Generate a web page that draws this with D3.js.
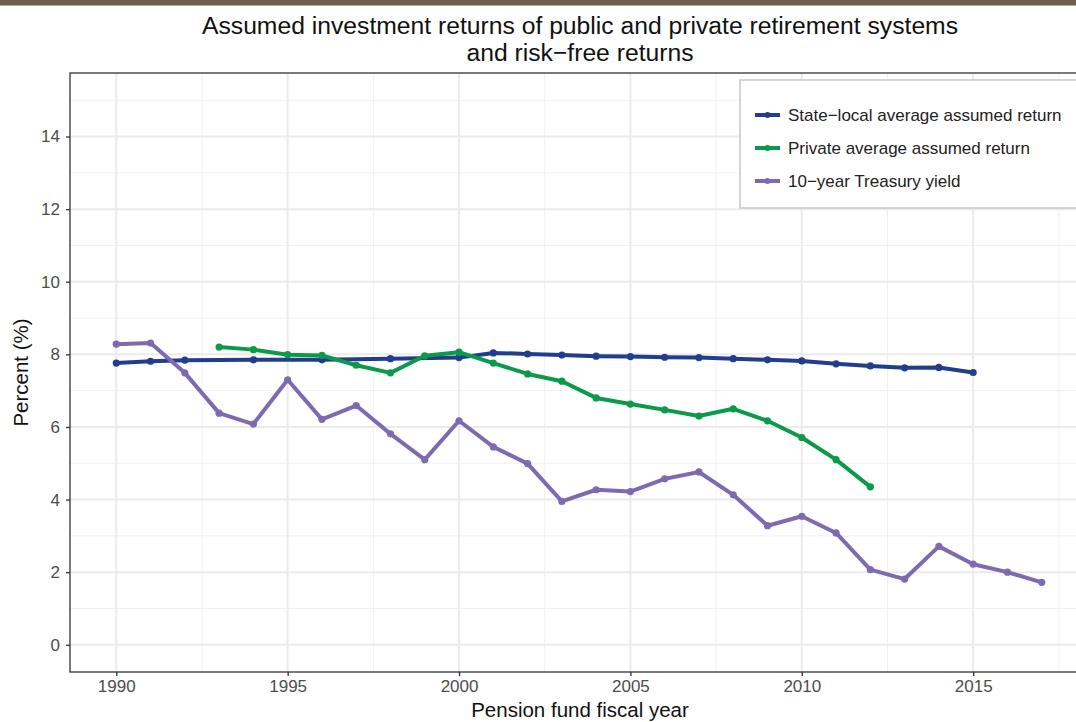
<!DOCTYPE html>
<html>
<head>
<meta charset="utf-8">
<script src="https://cdn.jsdelivr.net/npm/d3@7"></script>
<style>
  body { margin: 0; background: #fff; }
  svg { display: block; font-family: "Liberation Sans", Arial, sans-serif; }
</style>
</head>
<body>
<div id="vis-container"></div>
<script>
// Data
const stateYears = [1990, 1991, 1992, 1994, 1996, 1998, 2000, 2001, 2002, 2003, 2004, 2005, 2006, 2007, 2008, 2009, 2010, 2011, 2012, 2013, 2014, 2015];
const stateValues = [7.76, 7.81, 7.84, 7.85, 7.85, 7.88, 7.91, 8.04, 8.01, 7.98, 7.95, 7.94, 7.92, 7.91, 7.88, 7.85, 7.82, 7.74, 7.68, 7.63, 7.64, 7.50];

const privateYears = [1993, 1994, 1995, 1996, 1997, 1998, 1999, 2000, 2001, 2002, 2003, 2004, 2005, 2006, 2007, 2008, 2009, 2010, 2011, 2012];
const privateValues = [8.20, 8.13, 7.99, 7.97, 7.70, 7.49, 7.96, 8.06, 7.76, 7.46, 7.26, 6.80, 6.63, 6.47, 6.30, 6.50, 6.17, 5.71, 5.10, 4.35];

const treasuryYears = d3.range(1990, 2018);
const treasuryValues = [8.28, 8.31, 7.49, 6.38, 6.08, 7.30, 6.21, 6.59, 5.81, 5.10, 6.17, 5.45, 4.99, 3.95, 4.27, 4.22, 4.57, 4.76, 4.13, 3.28, 3.54, 3.08, 2.07, 1.81, 2.71, 2.22, 2.00, 1.72];

const seriesNames = ["State\u2212local average assumed return", "Private average assumed return", "10\u2212year Treasury yield"];
const seriesColors = ["#233d8e", "#0b9a4a", "#7d6ab0"];

const xTicks = [1990, 1995, 2000, 2005, 2010, 2015];
const xMinor = [1992.5, 1997.5, 2002.5, 2007.5, 2012.5, 2017.5];
const yTicks = [0, 2, 4, 6, 8, 10, 12, 14];
const yMinor = [1, 3, 5, 7, 9, 11, 13, 15];

const series = [
  { name: seriesNames[0], color: seriesColors[0], values: stateYears.map((y, i) => ({ year: y, value: stateValues[i] })) },
  { name: seriesNames[1], color: seriesColors[1], values: privateYears.map((y, i) => ({ year: y, value: privateValues[i] })) },
  { name: seriesNames[2], color: seriesColors[2], values: treasuryYears.map((y, i) => ({ year: y, value: treasuryValues[i] })) }
];

const width = 1076;
const height = 722;
const margin = { top: 73, right: -12, bottom: 50, left: 70 };

const svg = d3.select("#vis-container")
  .append("svg")
  .attr("width", width)
  .attr("height", height);

// brown strip at the very top
svg.append("rect")
  .attr("x", 0).attr("y", 0)
  .attr("width", width).attr("height", 5.5)
  .attr("fill", "#6b5e4a");

// ggplot-like expansion: data 1990-2017, y limits 0-15
const xScale = d3.scaleLinear()
  .domain([1990 - 1.35, 2017 + 1.35])
  .range([margin.left, width - margin.right]);

const yScale = d3.scaleLinear()
  .domain([-0.75, 15.75])
  .range([height - margin.bottom, margin.top]);

const plotTop = margin.top, plotBottom = height - margin.bottom;
const plotLeft = margin.left, plotRight = width - margin.right;

// Grid lines
const grid = svg.append("g");
grid.selectAll(".ygrid-minor").data(yMinor).enter().append("line")
  .attr("x1", plotLeft).attr("x2", plotRight)
  .attr("y1", d => yScale(d)).attr("y2", d => yScale(d))
  .attr("stroke", "#f0f0f0").attr("stroke-width", 1);
grid.selectAll(".xgrid-minor").data(xMinor).enter().append("line")
  .attr("y1", plotTop).attr("y2", plotBottom)
  .attr("x1", d => xScale(d)).attr("x2", d => xScale(d))
  .attr("stroke", "#f0f0f0").attr("stroke-width", 1);
grid.selectAll(".ygrid").data(yTicks).enter().append("line")
  .attr("x1", plotLeft).attr("x2", plotRight)
  .attr("y1", d => yScale(d)).attr("y2", d => yScale(d))
  .attr("stroke", "#ebebeb").attr("stroke-width", 2);
grid.selectAll(".xgrid").data(xTicks).enter().append("line")
  .attr("y1", plotTop).attr("y2", plotBottom)
  .attr("x1", d => xScale(d)).attr("x2", d => xScale(d))
  .attr("stroke", "#ebebeb").attr("stroke-width", 2);

// Lines and points
const line = d3.line()
  .x(d => xScale(d.year))
  .y(d => yScale(d.value));

series.forEach(s => {
  svg.append("path")
    .datum(s.values)
    .attr("fill", "none")
    .attr("stroke", s.color)
    .attr("stroke-width", 4)
    .attr("stroke-linejoin", "round")
    .attr("d", line);
  svg.append("g").selectAll("circle")
    .data(s.values)
    .enter()
    .append("circle")
    .attr("cx", d => xScale(d.year))
    .attr("cy", d => yScale(d.value))
    .attr("r", 3.6)
    .attr("fill", s.color);
});

// Panel border
svg.append("rect")
  .attr("x", plotLeft).attr("y", plotTop)
  .attr("width", plotRight - plotLeft).attr("height", plotBottom - plotTop)
  .attr("fill", "none").attr("stroke", "#333").attr("stroke-width", 1.3);

// Axes
const xAxis = svg.append("g")
  .attr("transform", `translate(0,${plotBottom})`)
  .call(d3.axisBottom(xScale).tickValues(xTicks).tickFormat(d3.format("d")).tickSize(4).tickPadding(4));
const yAxis = svg.append("g")
  .attr("transform", `translate(${plotLeft},0)`)
  .call(d3.axisLeft(yScale).tickValues(yTicks).tickSize(4).tickPadding(6));

[xAxis, yAxis].forEach(a => {
  a.select(".domain").remove();
  a.attr("font-size", 17).attr("font-family", "'Liberation Sans', Arial, sans-serif");
  a.selectAll(".tick line").attr("stroke", "#333").attr("stroke-width", 1.3);
  a.selectAll(".tick text").attr("fill", "#4d4d4d");
});

// Axis titles
svg.append("text")
  .attr("x", 580).attr("y", 717)
  .attr("text-anchor", "middle")
  .attr("font-size", "20.5px")
  .attr("fill", "#111")
  .text("Pension fund fiscal year");

svg.append("text")
  .attr("transform", `translate(28,${(plotTop + plotBottom) / 2}) rotate(-90)`)
  .attr("text-anchor", "middle")
  .attr("font-size", "20.5px")
  .attr("fill", "#111")
  .text("Percent (%)");

// Title
const title = svg.append("text")
  .attr("text-anchor", "middle")
  .attr("font-size", "24.7px")
  .attr("fill", "#111");
title.append("tspan").attr("x", 580).attr("y", 34)
  .text("Assumed investment returns of public and private retirement systems");
title.append("tspan").attr("x", 580).attr("y", 61)
  .text("and risk\u2212free returns");

// Legend
const legend = svg.append("g");
legend.append("rect")
  .attr("x", 740).attr("y", 80)
  .attr("width", 360).attr("height", 128)
  .attr("fill", "#fff")
  .attr("stroke", "#c8c8c8")
  .attr("stroke-width", 1.5);

series.forEach((s, i) => {
  const ly = 115 + i * 33;
  legend.append("line")
    .attr("x1", 755).attr("x2", 780)
    .attr("y1", ly).attr("y2", ly)
    .attr("stroke", s.color).attr("stroke-width", 4);
  legend.append("circle")
    .attr("cx", 767.5).attr("cy", ly).attr("r", 3)
    .attr("fill", s.color);
  legend.append("text")
    .attr("x", 788).attr("y", ly + 6)
    .attr("font-size", "17px")
    .attr("fill", "#222")
    .text(s.name);
});
</script>
</body>
</html>
